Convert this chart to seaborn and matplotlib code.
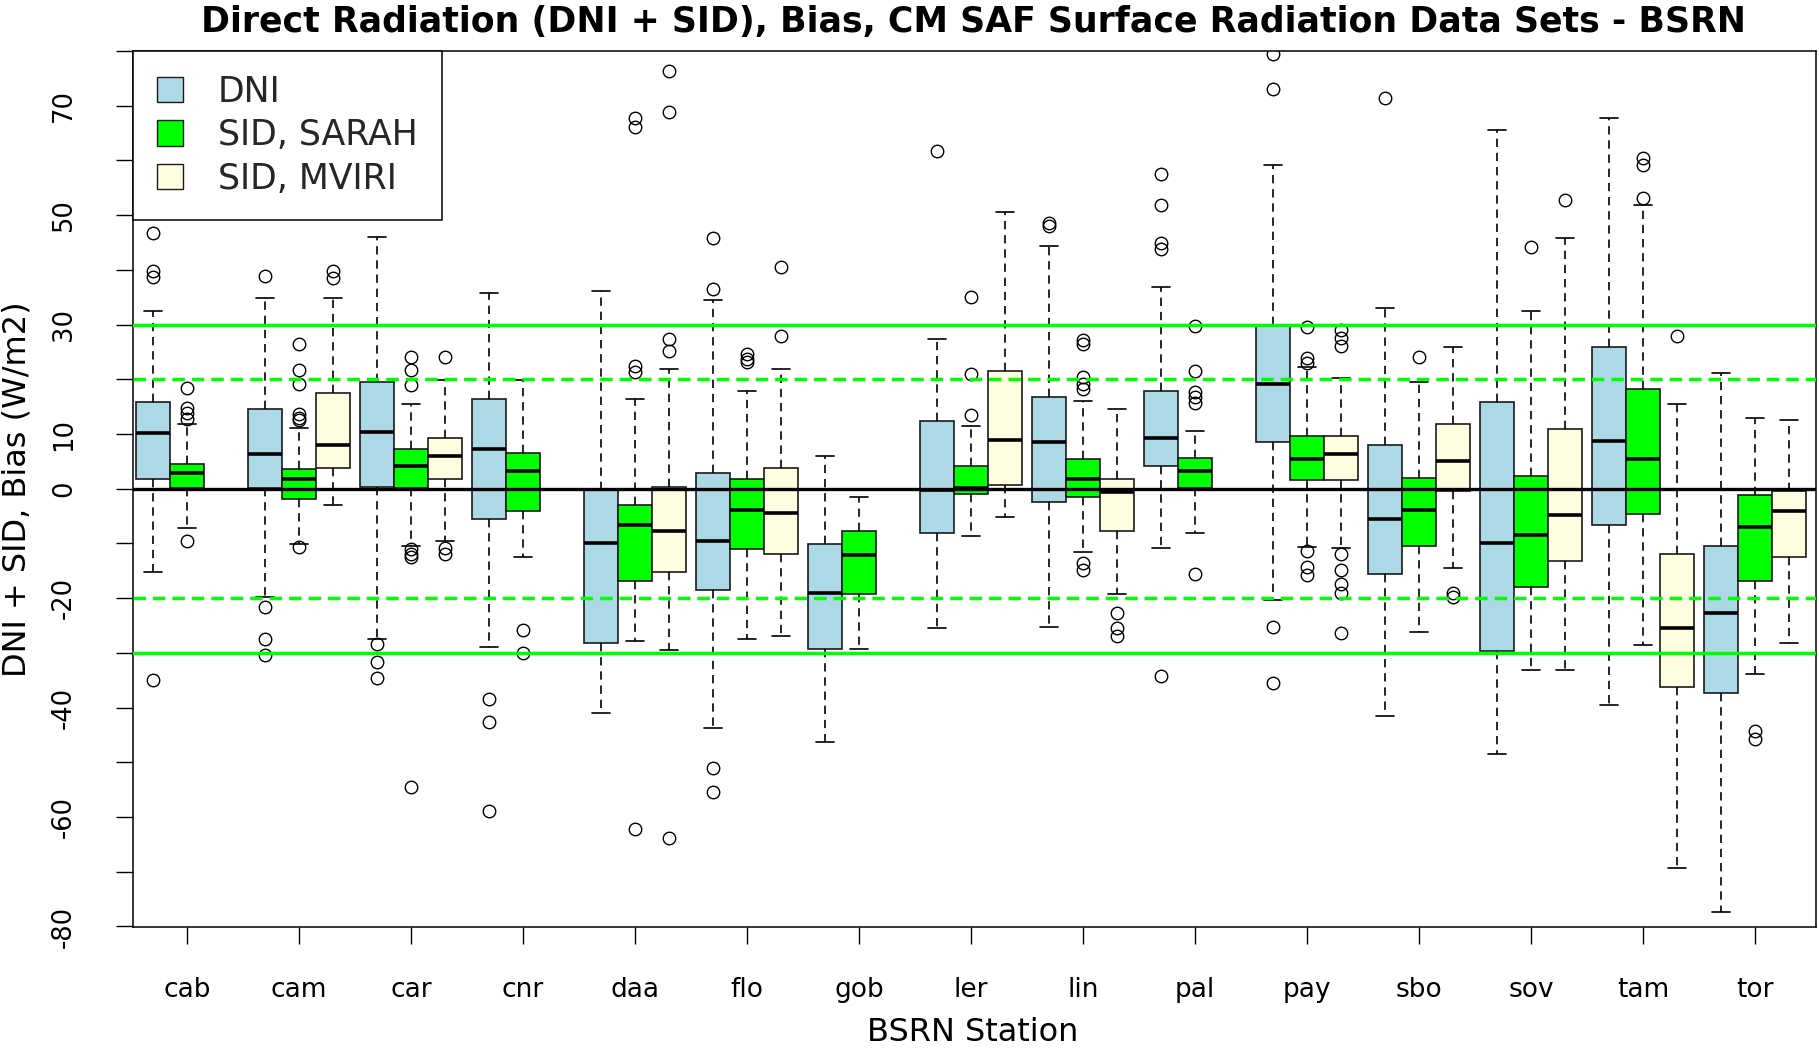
import matplotlib
matplotlib.use("Agg")
import matplotlib.pyplot as plt
import seaborn as sns
from matplotlib.patches import Patch

# ---------------- data ----------------
stations = ["cab", "cam", "car", "cnr", "daa", "flo", "gob", "ler",
            "lin", "pal", "pay", "sbo", "sov", "tam", "tor"]
series_names = ["DNI", "SID, SARAH", "SID, MVIRI"]
series_colors = ["#ADD8E6", "#00FF00", "#FFFDE0"]

# DNI
dni_lo  = [-15.2, -19.8, -27.4, -29.0, -41.0, -43.7, -46.3, -25.4, -25.3, -10.8, -20.4, -41.6, -48.4, -39.5, -77.4]
dni_q1  = [1.8, 0.2, 0.4, -5.6, -28.2, -18.5, -29.3, -8.0, -2.5, 4.1, 8.5, -15.6, -29.7, -6.7, -37.4]
dni_med = [10.1, 6.4, 10.4, 7.2, -9.9, -9.5, -19.0, -0.3, 8.5, 9.3, 19.2, -5.6, -9.9, 8.8, -22.7]
dni_q3  = [15.9, 14.6, 19.5, 16.4, -0.3, 2.8, -10.1, 12.3, 16.7, 17.9, 30.0, 8.0, 15.8, 25.9, -10.4]
dni_hi  = [32.5, 34.8, 46.1, 35.8, 36.1, 34.5, 5.9, 27.3, 44.3, 36.9, 59.2, 33.0, 65.5, 67.8, 21.1]
dni_out = [[46.7, 39.8, 38.7, -35.0], [38.9, -21.6, -27.4, -30.3], [-28.4, -31.6, -34.5],
           [-38.4, -42.6, -58.9], [], [45.9, 36.6, -51.0, -55.4], [], [61.8], [48.0, 48.5],
           [57.6, 51.8, 45.0, 43.8, -34.2], [79.4, 73.0, -25.3, -35.5], [71.5], [], [], []]

# SID, SARAH
sarah_lo  = [-7.2, -10.1, -10.4, -12.5, -27.9, -27.4, -29.3, -8.7, -11.6, -8.0, -10.6, -26.1, -33.2, -28.6, -33.9]
sarah_q1  = [0.2, -1.9, 0.2, -4.0, -16.9, -11.1, -19.3, -0.9, -1.5, 0.2, 1.6, -10.4, -17.9, -4.6, -16.9]
sarah_med = [2.8, 1.7, 4.1, 3.3, -6.6, -3.8, -12.2, 0.1, 1.8, 3.3, 5.4, -3.8, -8.5, 5.5, -6.9]
sarah_q3  = [4.6, 3.6, 7.2, 6.5, -3.0, 1.7, -7.7, 4.1, 5.4, 5.7, 9.6, 2.0, 2.4, 18.3, -1.2]
sarah_hi  = [11.8, 11.1, 15.4, 19.8, 16.4, 17.9, -1.5, 11.4, 16.0, 10.6, 22.2, 19.5, 32.4, 51.8, 13.0]
sarah_out = [[18.5, 14.8, 13.8, 12.8, -9.5], [26.4, 21.7, 19.1, 13.7, 13.0, 12.5, -10.6],
             [24.0, 21.7, 19.0, -11.1, -12.0, -12.5, -54.5], [-25.8, -30.0],
             [67.8, 66.2, 22.5, 21.4, -62.2], [24.6, 23.7, 23.2], [], [35.0, 20.9, 13.5],
             [27.2, 26.4, 20.4, 19.1, 18.3, -13.5, -14.8], [29.8, 21.6, 17.7, 16.7, 15.6, -15.6],
             [29.6, 23.9, 23.0, -11.4, -14.3, -15.8], [24.0], [44.2], [53.1, 60.4, 59.2],
             [-44.2, -45.8]]

# SID, MVIRI (None = no data for that station)
mviri_lo  = [None, -3.0, -9.5, None, -29.5, -26.9, None, -5.1, -19.3, None, -10.9, -14.5, -33.2, -69.4, -28.2]
mviri_q1  = [None, 3.8, 1.8, None, -15.3, -12.0, None, 0.6, -7.7, None, 1.6, -0.4, -13.2, -36.3, -12.4]
mviri_med = [None, 8.0, 6.0, None, -7.8, -4.5, None, 9.0, -0.6, None, 6.3, 5.1, -4.8, -25.5, -4.1]
mviri_q3  = [None, 17.5, 9.3, None, 0.4, 3.8, None, 21.6, 1.7, None, 9.6, 11.8, 10.9, -12.0, -0.4]
mviri_hi  = [None, 34.8, 19.8, None, 21.9, 21.9, None, 50.6, 14.6, None, 20.3, 25.9, 45.8, 15.4, 12.5]
mviri_out = [[], [39.8, 38.5], [24.0, -10.8, -12.0], [], [76.3, 68.9, 27.4, 25.1, -63.8],
             [40.6, 28.0], [], [], [-22.7, -25.5, -26.9], [],
             [29.0, 27.5, 26.0, -12.0, -14.8, -17.4, -19.0, -26.3], [-19.0, -19.8], [52.7],
             [28.0], []]

ytick_values = list(range(-80, 81, 10))
ytick_labels = ["-80", "", "-60", "", "-40", "", "-20", "", "0", "10", "", "30", "", "50", "", "70", ""]
ref_lines_solid = [-30, 30]
ref_lines_dashed = [-20, 20]

title = "Direct Radiation (DNI + SID), Bias, CM SAF Surface Radiation Data Sets - BSRN"
xlabel = "BSRN Station"
ylabel = "DNI + SID, Bias (W/m2)"

# ---------------- style ----------------
sns.set_theme(style="white")
plt.rcParams["font.family"] = ["DejaVu Sans"]
plt.rcParams["axes.unicode_minus"] = False

W, H = 1819, 1048
fig = plt.figure(figsize=(W / 100, H / 100), dpi=100)
ax_l, ax_r, ax_t, ax_b = 133, 1816, 50.5, 927
ax = fig.add_axes([ax_l / W, 1 - ax_b / H, (ax_r - ax_l) / W, (ax_b - ax_t) / H])

box_w = 0.305
offsets = [-box_w, 0.0, box_w]
all_series = [
    (dni_lo, dni_q1, dni_med, dni_q3, dni_hi, dni_out),
    (sarah_lo, sarah_q1, sarah_med, sarah_q3, sarah_hi, sarah_out),
    (mviri_lo, mviri_q1, mviri_med, mviri_q3, mviri_hi, mviri_out),
]

for k, (lo, q1, med, q3, hi, out) in enumerate(all_series):
    stats, pos = [], []
    for i, st in enumerate(stations):
        if med[i] is None:
            continue
        stats.append(dict(whislo=lo[i], q1=q1[i], med=med[i], q3=q3[i],
                          whishi=hi[i], fliers=out[i], label=st))
        pos.append(i + 1 + offsets[k])
    ax.bxp(stats, positions=pos, widths=box_w, capwidths=box_w * 0.52,
           patch_artist=True, showfliers=True, manage_ticks=False,
           boxprops=dict(facecolor=series_colors[k], edgecolor="#1a1a1a", linewidth=1.2),
           medianprops=dict(color="black", linewidth=2.6, solid_capstyle="butt"),
           whiskerprops=dict(color="black", linewidth=1.2, linestyle=(0, (5, 3.5))),
           capprops=dict(color="black", linewidth=1.2),
           flierprops=dict(marker="o", markerfacecolor="none", markeredgecolor="black",
                           markersize=9, markeredgewidth=1.0))

for y in ref_lines_solid:
    ax.axhline(y, color="#00FF00", lw=2.5, zorder=6)
for y in ref_lines_dashed:
    ax.axhline(y, color="#00FF00", lw=2.5, ls=(0, (3.6, 2.0)), zorder=6)
ax.axhline(0, color="black", lw=2.4, zorder=7)

ax.set_xlim(0.518, 15.545)
ax.set_ylim(-80.1, 80.1)
ax.set_xticks(range(1, len(stations) + 1))
ax.set_xticklabels(stations)
ax.set_yticks(ytick_values)
ax.set_yticklabels(ytick_labels)
plt.setp(ax.get_yticklabels(), rotation=90, va="center")
ax.tick_params(axis="both", which="major", bottom=True, left=True, direction="out",
               length=12.2, width=1.0, color="black", labelcolor="black")
ax.tick_params(axis="x", labelsize=19, pad=24)
ax.tick_params(axis="y", labelsize=18.5, pad=28)
for sp in ax.spines.values():
    sp.set_visible(True)
    sp.set_color("black")
    sp.set_linewidth(1.1)
ax.grid(False)

handles = [Patch(facecolor=c, edgecolor="#1a1a1a", linewidth=1.0, label=n)
           for n, c in zip(series_names, series_colors)]
leg = ax.legend(handles=handles, loc="upper left", bbox_to_anchor=(0, 1),
                borderaxespad=0, frameon=True, fancybox=False, framealpha=1,
                edgecolor="black", fontsize=25, handlelength=0.75, handleheight=0.75,
                handletextpad=1.0, borderpad=0.7, labelspacing=0.27)
leg.get_frame().set_linewidth(1.1)
leg.set_zorder(10)

fig.text(973 / W, 1 - 32 / H, title, ha="center", va="baseline",
         fontsize=25, fontweight="bold", color="black")
fig.text(973 / W, 1 - 1041 / H, xlabel, ha="center", va="baseline", fontsize=23, color="black")
fig.text(25.5 / W, 1 - 488.7 / H, ylabel, ha="center", va="baseline", rotation=90,
         rotation_mode="anchor", fontsize=23, color="black")

fig.savefig("out.png", dpi=100, facecolor="white")
